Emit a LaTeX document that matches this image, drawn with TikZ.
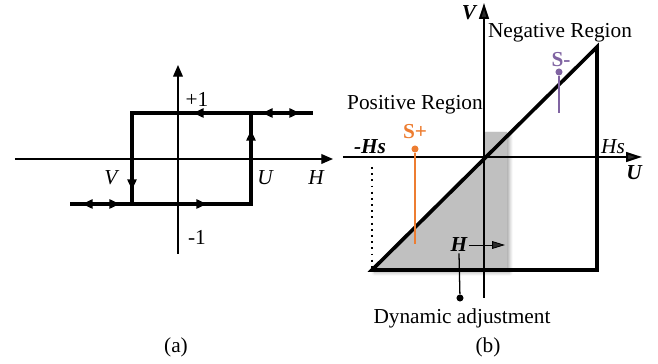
\documentclass[tikz,border=0pt]{standalone}
\usepackage{fontspec}
\setmainfont{Liberation Serif}
\usetikzlibrary{arrows.meta, positioning, calc, shadows.blur}
\definecolor{cOrange}{RGB}{237,125,49}
\definecolor{cPurple}{RGB}{128,100,162}
\definecolor{cShade}{RGB}{192,192,192}
\tikzset{
	axisa/.style  ={-{Triangle[length=5.5pt, width=4.6pt]}, line width=0.65pt},
	axisb/.style  ={-{Triangle[length=7.5pt, width=4.6pt]}, line width=0.95pt},
	loopln/.style ={line width=1.7pt},
	flow/.style   ={-{Triangle[length=5pt, width=4.2pt]}, line width=1.7pt},
	lbl/.style    ={inner sep=0.5pt},
	bi/.style     ={lbl, font=\fontsize{10}{12}\selectfont\bfseries\itshape},
	% markers of the switching points
	pin/.style    ={line width=0.6pt},
	dot/.style    ={circle, fill, inner sep=0pt, minimum size=3.3pt},
}
\begin{document}
\begin{tikzpicture}[x=0.0165cm, y=-0.0165cm, font=\fontsize{10}{12}\selectfont]
	\useasboundingbox (0,0) rectangle (658,364);
	% (a) hysteresis loop
	\coordinate (ha0) at (15,159);  \coordinate (ha1) at (333,159);
	\coordinate (va0) at (178,254); \coordinate (va1) at (178,65);
	\draw[axisa] (ha0) -- (ha1); \draw[axisa] (va0) -- (va1);
	\coordinate (tl) at (132,113); \coordinate (tr) at (251,113);
	\coordinate (bl) at (132,204); \coordinate (br) at (251,204);
	\coordinate (te) at (313,113); \coordinate (be) at (70,204);
	\draw[loopln] (te) -- (tl) -- (bl) -- (be);
	\draw[loopln] (tr) -- (br) -- (bl);
	\draw[flow] (215,113) -- (193,113); \draw[flow] (185,204) -- (207,204);
	\draw[flow] (132,170) -- (132,190); \draw[flow] (251,150) -- (251,130);
	\draw[flow] (281,113) -- (262,113); \draw[flow] (281,113) -- (300,113);
	\draw[flow] (101,204) -- (82,204);  \draw[flow] (101,204) -- (120,204);
	\node[lbl] (p1) at (197,99) {+1};
	\node[lbl] (m1) at (197,237) {-1};
	\node[lbl] (vl) at (111,178) {\itshape V};
	\node[lbl] (ul) at (265,178) {\itshape U};
	\node[lbl] (hl) at (316,178) {\itshape H};
	\node[lbl] (capa) at (176,347) {(a)};

	% (b) switching regions
	\fill[cShade, blur shadow={shadow xshift=1.2pt, shadow yshift=-1.2pt, shadow blur radius=1.6pt, shadow opacity=35}]
		(372,270) -- (484,157) -- (484,132) -- (507,132) -- (507,270) -- cycle;
	\coordinate (o) at (484,157);
	\coordinate (sbl) at (372,270); \coordinate (str) at (597,47); \coordinate (sbr) at (597,270);
	\draw[axisb] (343,157) -- (642,157);
	\draw[axisb] (484,298) -- (484,3);
	\draw[loopln] (sbl) -- (str) -- (sbr) -- cycle;
	\draw[dotted, line width=0.9pt] (372,167) -- (sbl);
	\node[bi] (vb) at (469,13) {V};
	\node[bi] (ub) at (634,173) {U};
	\node[bi] (mhs) at (370,147) {-Hs};
	\node[lbl] (hs) at (613,147) {\itshape Hs};
	\node[lbl] (neg) at (560,33) {Negative Region};
	\node[lbl] (pos) at (415,105) {Positive Region};
	\node[bi, font=\fontsize{10}{12}\selectfont\bfseries, text=cPurple] (sm) at (561,60) {S-};
	\node[bi, font=\fontsize{10}{12}\selectfont\bfseries, text=cOrange] (sp) at (415,132) {S+};
	\node[dot, cPurple] (smd) at (559,72) {};
	\node[dot, cOrange] (spd) at (415,149) {};
	\coordinate (sme) at (559,113); \coordinate (spe) at (415,244);
	\draw[pin, cPurple, line width=0.5pt] (smd) -- (sme);
	\draw[pin, cOrange] (spd) -- (spe);
	\node[bi] (hb) at (459,245) {H};
	\coordinate (hbe) at (505,245);
	\draw[-{Triangle[length=6pt, width=3.6pt]}, line width=0.4pt] (hb.east) -- (hbe);
	\node[dot] (hd) at (460,298) {};
	\draw[pin] (hb.south) -- (hd);
	\node[lbl] (dyn) at (462,318) {Dynamic adjustment};
	\node[lbl] (capb) at (488,347) {(b)};
\end{tikzpicture}
\end{document}
